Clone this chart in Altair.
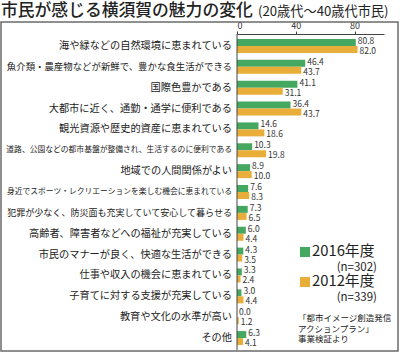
import altair as alt
import pandas as pd

categories = [
    "海や緑などの自然環境に恵まれている",
    "魚介類・農産物などが新鮮で、豊かな食生活ができる",
    "国際色豊かである",
    "大都市に近く、通勤・通学に便利である",
    "観光資源や歴史的資産に恵まれている",
    "道路、公園などの都市基盤が整備され、生活するのに便利である",
    "地域での人間関係がよい",
    "身近でスポーツ・レクリエーションを楽しむ機会に恵まれている",
    "犯罪が少なく、防災面も充実していて安心して暮らせる",
    "高齢者、障害者などへの福祉が充実している",
    "市民のマナーが良く、快適な生活ができる",
    "仕事や収入の機会に恵まれている",
    "子育てに対する支援が充実している",
    "教育や文化の水準が高い",
    "その他",
]
v2016 = [80.8, 46.4, 41.1, 36.4, 14.6, 10.3, 8.9, 7.6, 7.3, 6.0, 4.3, 3.3, 3.0, 0.0, 6.3]
v2012 = [82.0, 43.7, 31.1, 43.7, 18.6, 19.8, 10.0, 8.3, 6.5, 4.4, 3.5, 2.4, 4.4, 1.2, 4.1]
years = ["2016年度", "2012年度"]
sample_sizes = ["(n=302)", "(n=339)"]
colors = ["#45A860", "#E9AD3A"]
axis_ticks = [0, 20, 40, 60, 80, 100]
title_main = "市民が感じる横須賀の魅力の変化"
title_sub = "(20歳代～40歳代市民)"
source_note = ["「都市イメージ創造発信", "アクションプラン」", "事業検証より"]

FONT = "Noto Sans CJK JP"
W, H = 147, 316
LEFT, TOP = 237, 34

rows = []
for c, a, b in zip(categories, v2016, v2012):
    rows.append({"category": c, "year": years[0], "value": a})
    rows.append({"category": c, "year": years[1], "value": b})
df = pd.DataFrame(rows)
df_cat = pd.DataFrame({"category": categories})
one = pd.DataFrame({"k": [0]})

yscale = alt.Scale(domain=categories, range=[1.5, 314.5], paddingInner=0.33, paddingOuter=0.165)
xscale = alt.Scale(domain=[0, 100], nice=False)
y_enc = alt.Y("category:N", sort=categories, scale=yscale, axis=None)
yoff_enc = alt.YOffset("year:N", sort=years, scale=alt.Scale(domain=years))

frame = alt.Chart(one).mark_rect(fill=None, stroke="#6b6b6b", strokeWidth=1.5).encode(
    x=alt.value(-236), x2=alt.value(161), y=alt.value(-12), y2=alt.value(317)
)

t_main = alt.Chart(one).mark_text(
    align="left", baseline="middle", fontSize=16.8, fontWeight=500, color="#222", font=FONT
).encode(x=alt.value(-236), y=alt.value(-23), text=alt.value(title_main))

t_sub = alt.Chart(one).mark_text(
    align="left", baseline="middle", fontSize=13.2, color="#222", font=FONT
).encode(x=alt.value(21), y=alt.value(-22), text=alt.value(title_sub))

yline = alt.Chart(one).mark_rule(color="#444", strokeWidth=1).encode(
    x=alt.value(0), y=alt.value(0), y2=alt.value(H)
)

bars = alt.Chart(df).mark_bar().encode(
    x=alt.X(
        "value:Q",
        scale=xscale,
        axis=alt.Axis(
            orient="top", values=axis_ticks, tickSize=3, labelFontSize=9, labelFont=FONT,
            labelColor="#333", domainColor="#444", tickColor="#444", labelPadding=1,
            grid=False, title=None,
        ),
    ),
    y=y_enc,
    yOffset=yoff_enc,
    color=alt.Color("year:N", scale=alt.Scale(domain=years, range=colors), legend=None),
)

val_layers = []
for yr, shift in zip(years, [-1.5, 1.5]):
    val_layers.append(
        alt.Chart(df).transform_filter(alt.datum.year == yr).mark_text(
            align="left", baseline="middle", dx=2, dy=shift, fontSize=8.5, color="#333", font=FONT
        ).encode(
            x=alt.X("value:Q", scale=xscale),
            y=y_enc,
            yOffset=yoff_enc,
            text=alt.Text("value:Q", format=".1f"),
        )
    )

cat_labels = alt.Chart(df_cat).transform_calculate(
    fs="min(10.2, 226 / length(datum.category))"
).mark_text(align="right", baseline="middle", color="#222", font=FONT).encode(
    x=alt.value(-5),
    y=y_enc,
    text="category:N",
    size=alt.Size("fs:Q", scale=None),
)

legend_layers = []
sq_y = [218, 248]
n_y = [233.5, 263.5]
for i in range(2):
    legend_layers.append(
        alt.Chart(one).mark_square(size=100, color=colors[i], opacity=1).encode(
            x=alt.value(68), y=alt.value(sq_y[i])
        )
    )
    legend_layers.append(
        alt.Chart(one).mark_text(align="left", baseline="middle", fontSize=14.8, color="#222", font=FONT).encode(
            x=alt.value(75), y=alt.value(sq_y[i]), text=alt.value(years[i])
        )
    )
    legend_layers.append(
        alt.Chart(one).mark_text(align="right", baseline="middle", fontSize=11.5, color="#222", font=FONT).encode(
            x=alt.value(140), y=alt.value(n_y[i]), text=alt.value(sample_sizes[i])
        )
    )
for j, line in enumerate(source_note):
    legend_layers.append(
        alt.Chart(one).mark_text(align="left", baseline="middle", fontSize=8.5, color="#222", font=FONT).encode(
            x=alt.value(61), y=alt.value(284 + 10.5 * j), text=alt.value(line)
        )
    )

chart = alt.layer(frame, t_main, t_sub, bars, *val_layers, cat_labels, yline, *legend_layers).properties(
    width=W,
    height=H,
    autosize=alt.AutoSizeParams(type="none"),
    padding={"left": LEFT, "top": TOP, "right": 400 - LEFT - W, "bottom": 353 - TOP - H},
    background="white",
).configure_view(stroke=None)

chart.save("out.html", embed_options={"renderer": "svg", "actions": False})
